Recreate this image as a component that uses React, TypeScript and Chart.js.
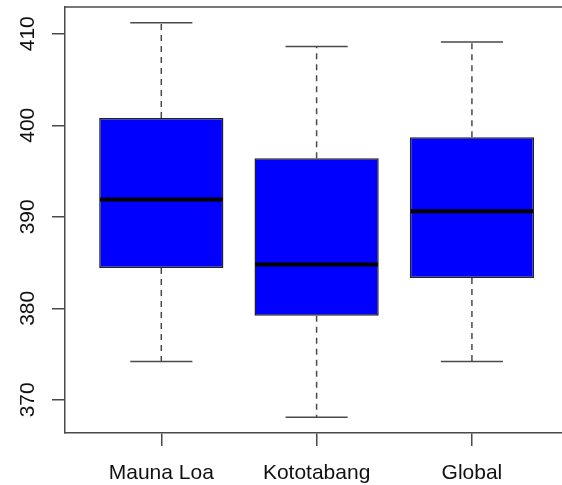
import React, { useEffect, useRef } from "react";
import { Chart, registerables } from "chart.js";

Chart.register(...registerables);

const categories = ["Mauna Loa", "Kototabang", "Global"];
const whiskerLow = [374.2, 368.1, 374.2];
const q1 = [384.4, 379.2, 383.3];
const median = [391.9, 384.8, 390.6];
const q3 = [400.8, 396.4, 398.7];
const whiskerHigh = [411.2, 408.6, 409.1];
const yTicks = [370, 380, 390, 400, 410];

const FONT = '"Liberation Sans", Arial, sans-serif';
const AXIS_COLOR = "#4a4a4a";
const TEXT_COLOR = "#111";

export default function App() {
  const canvasRef = useRef<HTMLCanvasElement | null>(null);

  useEffect(() => {
    const canvas = canvasRef.current;
    if (!canvas) return;

    const dataMin = Math.min(...whiskerLow);
    const dataMax = Math.max(...whiskerHigh);
    const ext = (dataMax - dataMin) * 0.04;
    const yMin = dataMin - ext;
    const yMax = dataMax + ext;

    const boxPlugin = {
      id: "rBoxplot",
      afterDatasetsDraw(chart: any) {
        const ctx = chart.ctx;
        const xs = chart.scales.x;
        const ys = chart.scales.y;
        const area = chart.chartArea;
        ctx.save();
        categories.forEach((_, i) => {
          const cx = xs.getPixelForValue(i + 1);
          const capL = xs.getPixelForValue(i + 1 - 0.2);
          const capR = xs.getPixelForValue(i + 1 + 0.2);
          const pLow = ys.getPixelForValue(whiskerLow[i]);
          const pHigh = ys.getPixelForValue(whiskerHigh[i]);
          const pQ1 = ys.getPixelForValue(q1[i]);
          const pQ3 = ys.getPixelForValue(q3[i]);
          ctx.strokeStyle = AXIS_COLOR;
          ctx.lineWidth = 1.5;
          ctx.setLineDash([6, 5]);
          ctx.beginPath();
          ctx.moveTo(cx, pQ3);
          ctx.lineTo(cx, pHigh);
          ctx.moveTo(cx, pQ1);
          ctx.lineTo(cx, pLow);
          ctx.stroke();
          ctx.setLineDash([]);
          ctx.beginPath();
          ctx.moveTo(capL, pHigh);
          ctx.lineTo(capR, pHigh);
          ctx.moveTo(capL, pLow);
          ctx.lineTo(capR, pLow);
          ctx.stroke();
          const bl = xs.getPixelForValue(i + 1 - 0.4);
          const br = xs.getPixelForValue(i + 1 + 0.4);
          const pMed = ys.getPixelForValue(median[i]);
          ctx.strokeStyle = "#000";
          ctx.lineWidth = 4;
          ctx.beginPath();
          ctx.moveTo(bl + 1, pMed);
          ctx.lineTo(br - 1, pMed);
          ctx.stroke();
        });
        ctx.strokeStyle = AXIS_COLOR;
        ctx.lineWidth = 1.5;
        ctx.beginPath();
        ctx.moveTo(area.left, area.top);
        ctx.lineTo(area.right, area.top);
        ctx.stroke();
        ctx.restore();
      },
      afterDraw(chart: any) {
        const ctx = chart.ctx;
        const xs = chart.scales.x;
        const ys = chart.scales.y;
        const area = chart.chartArea;
        ctx.save();
        ctx.fillStyle = TEXT_COLOR;
        ctx.font = `21px ${FONT}`;
        yTicks.forEach((v) => {
          const y = ys.getPixelForValue(v);
          ctx.save();
          ctx.translate(area.left - 31.5, y);
          ctx.rotate(-Math.PI / 2);
          ctx.textAlign = "center";
          ctx.textBaseline = "alphabetic";
          ctx.fillText(String(v), 0, 0);
          ctx.restore();
        });
        ctx.textAlign = "center";
        ctx.textBaseline = "alphabetic";
        categories.forEach((c, i) => {
          const x = xs.getPixelForValue(i + 1);
          ctx.fillText(c, x, area.bottom + 46);
        });
        ctx.restore();
      },
    };

    const chart = new Chart(canvas, {
      type: "bar",
      data: {
        datasets: [
          {
            data: categories.map((_, i) => ({ x: i + 1, y: [q1[i], q3[i]] })) as any,
            backgroundColor: "#0000ff",
            borderColor: "#222",
            borderWidth: 1.5,
            borderSkipped: false,
            categoryPercentage: 1,
            barPercentage: 0.8,
          },
        ],
      },
      options: {
        animation: false,
        responsive: false,
        events: [],
        layout: { padding: { top: 7, right: 0, left: 0, bottom: 0 } },
        plugins: { legend: { display: false }, tooltip: { enabled: false } },
        scales: {
          x: {
            type: "linear",
            min: 0.38,
            max: 3.58,
            offset: false,
            afterBuildTicks: (s: any) => {
              s.ticks = categories.map((_, i) => ({ value: i + 1 }));
            },
            afterFit: (s: any) => {
              s.height = 52;
            },
            ticks: { display: false },
            grid: {
              display: true,
              offset: false,
              drawOnChartArea: false,
              drawTicks: true,
              tickLength: 13,
              color: AXIS_COLOR,
              lineWidth: 1.5,
            },
            border: { display: true, color: AXIS_COLOR, width: 1.5 },
          },
          y: {
            type: "linear",
            min: yMin,
            max: yMax,
            afterBuildTicks: (s: any) => {
              s.ticks = yTicks.map((v) => ({ value: v }));
            },
            afterFit: (s: any) => {
              s.width = 65;
            },
            ticks: { display: false },
            grid: {
              display: true,
              drawOnChartArea: false,
              drawTicks: true,
              tickLength: 13,
              color: AXIS_COLOR,
              lineWidth: 1.5,
            },
            border: { display: true, color: AXIS_COLOR, width: 1.5 },
          },
        },
      },
      plugins: [boxPlugin],
    });

    return () => chart.destroy();
  }, []);

  return (
    <div style={{ position: "absolute", left: 0, top: 0, width: 562, height: 485, background: "#fff" }}>
      <canvas ref={canvasRef} width={562} height={485} style={{ display: "block" }} />
    </div>
  );
}
